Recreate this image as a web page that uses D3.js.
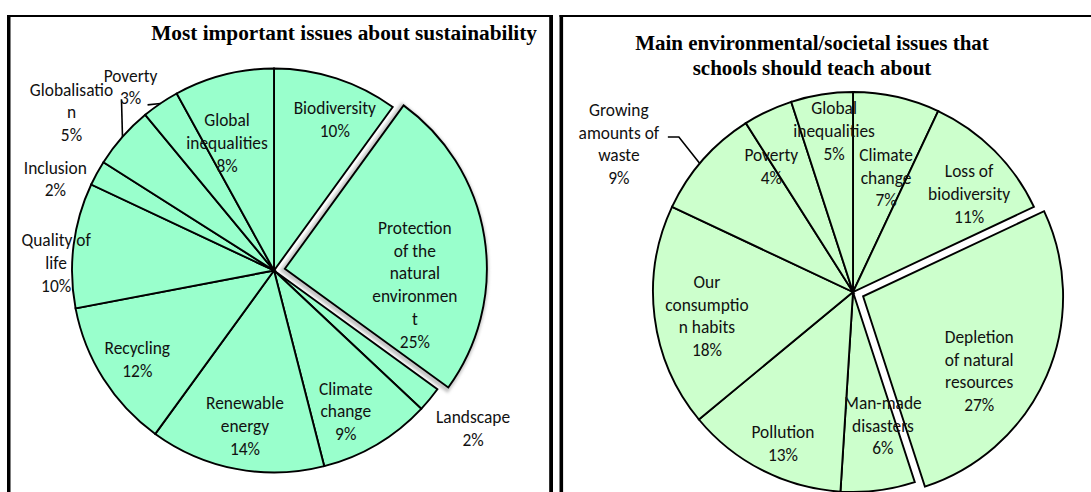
<!DOCTYPE html>
<html><head><meta charset="utf-8">
<script src="https://cdn.jsdelivr.net/npm/d3@7"></script>
<style>body{margin:0;background:#fff}svg{display:block}</style>
</head><body>
<svg id="chart" width="1091" height="492"></svg>
<script>
// ---------- DATA ----------
const leftTitle = ["Most important issues about sustainability"];
const leftCategories = ["Biodiversity","Protection of the natural environment","Landscape","Climate change","Renewable energy","Recycling","Quality of life","Inclusion","Globalisation","Poverty","Global inequalities"];
const leftValues = [10,25,2,9,14,12,10,2,5,3,8];
const leftLabelLines = [["Biodiversity"],["Protection","of the","natural","environmen","t"],["Landscape"],["Climate","change"],["Renewable","energy"],["Recycling"],["Quality of","life"],["Inclusion"],["Globalisatio","n"],["Poverty"],["Global","inequalities"]];

const rightTitle = ["Main environmental/societal issues that","schools should teach about"];
const rightCategories = ["Climate change","Loss of biodiversity","Depletion of natural resources","Man-made disasters","Pollution","Our consumption habits","Growing amounts of waste","Poverty","Global inequalities"];
const rightValues = [7,11,27,6,13,18,9,4,5];
const rightLabelLines = [["Climate","change"],["Loss of","biodiversity"],["Depletion","of natural","resources"],["Man-made","disasters"],["Pollution"],["Our","consumptio","n habits"],["Growing","amounts of","waste"],["Poverty"],["Global","inequalities"]];

// ---------- LAYOUT ----------
const leftLayout = {
  cx:274, cy:270.5, r:202, explode:1, explodeDist:11, fill:"#99FFCC", shadow:true,
  title:{x:537, y:40, anchor:"end", lh:24.5, size:21.3},
  labels:[[3.9,163],[16,131],[-1.2,254],[3.6,158],[-0.2,158],[-0.6,163],[-5.2,218],[-6.1,237],[-3.4,257],[-3.8,233],[-5.8,136]],
  leaders:{8:{pts:[[50,-13]], edge:0}, 9:{pts:[[17,18]], edge:0}}
};
const rightLayout = {
  cx:853, cy:292, r:200, explode:2, explodeDist:11, fill:"#CCFFCC", shadow:false,
  title:{x:812, y:50, anchor:"middle", lh:24.5, size:21},
  labels:[[3.5,119],[4.8,152],[9.3,138],[-5.4,137],[-2.2,167],[-2.1,148],[-9.1,277],[-7.8,150],[2.3,162]],
  leaders:{6:{pts:[[49,-7],[60,-7]], edge:-1.4}}
};

const svg = d3.select("#chart");
const rad = Math.PI/180;
const labelFont = "Carlito, Lato, 'Open Sans', sans-serif";
const labelSize = 17.4, labelLH = 22.7;

// panel frames
function frame(x0, x1, leftW, rightW) {
  svg.append("rect").attr("x", x0).attr("y", 15).attr("width", x1 - x0).attr("height", 2).attr("fill", "#000");
  svg.append("rect").attr("x", x0).attr("y", 15).attr("width", leftW).attr("height", 492 - 15).attr("fill", "#000");
  if (rightW) svg.append("rect").attr("x", x1 - rightW).attr("y", 15).attr("width", rightW).attr("height", 492 - 15).attr("fill", "#000");
}
frame(7, 553, 3.5, 3.8);
frame(559.5, 1095, 3.6, 0);

const defs = svg.append("defs");
defs.append("filter").attr("id","blur").attr("x","-20%").attr("y","-20%").attr("width","140%").attr("height","140%")
  .append("feGaussianBlur").attr("stdDeviation", 1.8);

function drawPie(values, lines, titleLines, L) {
  const g = svg.append("g");
  const pie = d3.pie().sort(null).value(d => d).startAngle(0).endAngle(2*Math.PI);
  const arcs = pie(values);
  const arc = d3.arc().innerRadius(0).outerRadius(L.r);
  const mid = a => (a.startAngle + a.endAngle) / 2;
  const offset = (i) => {
    if (i !== L.explode) return [0, 0];
    const m = mid(arcs[i]);
    return [L.explodeDist*Math.sin(m), -L.explodeDist*Math.cos(m)];
  };
  const ex = arcs[L.explode];
  const eo = offset(L.explode);
  if (L.shadow) {
    g.append("path").attr("d", arc(ex))
      .attr("transform", `translate(${L.cx+eo[0]-1.2},${L.cy+eo[1]+1.2})`)
      .attr("fill", "none").attr("stroke", "#c4c4c4").attr("stroke-width", 6)
      .attr("filter", "url(#blur)");
  }
  // regular slices
  g.selectAll("path.slice").data(arcs.filter((d,i) => i !== L.explode)).enter()
    .append("path").attr("class","slice")
    .attr("d", arc)
    .attr("transform", `translate(${L.cx},${L.cy})`)
    .attr("fill", L.fill).attr("stroke", "#000").attr("stroke-width", 1.9)
    .attr("stroke-linejoin", "miter");
  // exploded slice
  g.append("path").attr("d", arc(ex))
    .attr("transform", `translate(${L.cx+eo[0]},${L.cy+eo[1]})`)
    .attr("fill", L.fill).attr("stroke", "#000").attr("stroke-width", 1.9);

  // labels
  arcs.forEach((a, i) => {
    const o = offset(i);
    const [da, rr] = L.labels[i];
    const ang = mid(a) + da*rad;
    const x = L.cx + o[0] + rr*Math.sin(ang);
    const y = L.cy + o[1] - rr*Math.cos(ang);
    const txt = lines[i].concat([d3.format("d")(values[i]) + "%"]);
    const n = txt.length;
    const t = g.append("text").attr("font-family", labelFont).attr("font-size", labelSize)
      .attr("fill", "#111").attr("text-anchor", "middle");
    txt.forEach((s, k) => {
      t.append("tspan").attr("x", x).attr("y", y + (k - (n-1)/2)*labelLH).attr("dy", "0.35em").text(s);
    });
    const ld = L.leaders[i];
    if (ld) {
      const ea = mid(a) + ld.edge*rad;
      const pts = ld.pts.map(p => [x + p[0], y + p[1]]);
      pts.push([L.cx + L.r*Math.sin(ea), L.cy - L.r*Math.cos(ea)]);
      g.append("path").attr("d", d3.line()(pts)).attr("fill","none").attr("stroke","#000").attr("stroke-width",1.6);
    }
  });

  // title
  const tt = svg.append("text").attr("font-family", "'Liberation Serif', 'Times New Roman', serif")
    .attr("font-weight", "bold").attr("font-size", L.title.size).attr("fill", "#000")
    .attr("text-anchor", L.title.anchor);
  titleLines.forEach((s, k) => tt.append("tspan").attr("x", L.title.x).attr("y", L.title.y + k*L.title.lh).text(s));
}

drawPie(leftValues, leftLabelLines, leftTitle, leftLayout);
drawPie(rightValues, rightLabelLines, rightTitle, rightLayout);
</script>
</body></html>
